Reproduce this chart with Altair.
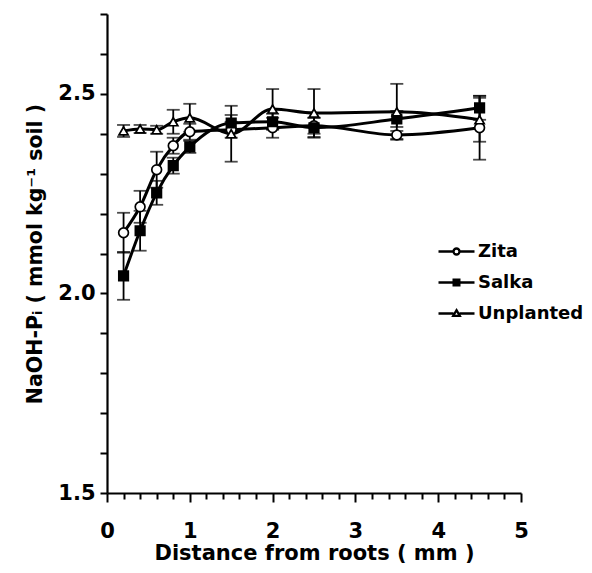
import altair as alt
import pandas as pd

distance = [0.2, 0.4, 0.6, 0.8, 1.0, 1.5, 2.0, 2.5, 3.5, 4.5]
zita = [2.152, 2.217, 2.310, 2.370, 2.405, 2.410, 2.415, 2.420, 2.397, 2.415]
zita_err = [0.050, 0.040, 0.045, 0.020, 0.020, 0.020, 0.025, 0.020, 0.010, 0.080]
salka = [2.044, 2.157, 2.252, 2.320, 2.367, 2.427, 2.430, 2.415, 2.437, 2.465]
salka_err = [0.060, 0.050, 0.030, 0.020, 0.015, 0.020, 0.020, 0.025, 0.020, 0.030]
unplanted = [2.407, 2.412, 2.410, 2.430, 2.440, 2.400, 2.462, 2.452, 2.455, 2.435]
unplanted_err = [0.015, 0.010, 0.010, 0.030, 0.035, 0.070, 0.050, 0.060, 0.070, 0.055]

series_names = ["Zita", "Salka", "Unplanted"]
x_ticks = [0, 0.2, 0.4, 0.6, 0.8, 1, 1.2, 1.4, 1.6, 1.8, 2, 2.2, 2.4, 2.6, 2.8, 3,
           3.2, 3.4, 3.6, 3.8, 4, 4.2, 4.4, 4.6, 4.8, 5]
y_ticks = [1.5, 1.6, 1.7, 1.8, 1.9, 2.0, 2.1, 2.2, 2.3, 2.4, 2.5, 2.6, 2.7]

rows = []
for name, vals, errs in [("Zita", zita, zita_err), ("Salka", salka, salka_err),
                         ("Unplanted", unplanted, unplanted_err)]:
    for d, v, e in zip(distance, vals, errs):
        rows.append({"series": name, "distance": d, "value": v,
                     "lo": v - e, "hi": v + e})
df = pd.DataFrame(rows)

FONT = "DejaVu Sans"

xscale = alt.Scale(domain=[0, 5], nice=False, zero=False)
yscale = alt.Scale(domain=[1.5, 2.7], nice=False, zero=False)

common_axis = dict(
    grid=False,
    labelOverlap=False,
    labelBound=False,
    labelFlush=False,
    labelFont=FONT,
    labelFontSize=21,
    labelFontWeight="bold",
    labelColor="black",
    titleFont=FONT,
    titleFontWeight="bold",
    titleColor="black",
    domainColor="black",
    domainWidth=2.2,
    tickColor="black",
    tickWidth=2,
)

xaxis = alt.Axis(
    values=x_ticks,
    title="Distance from roots ( mm )",
    labelExpr="abs(datum.value - round(datum.value)) < 0.001 ? format(datum.value, 'd') : ''",
    tickSize={"condition": {"test": "abs(datum.value - round(datum.value)) < 0.001", "value": 9}, "value": 6},
    labelPadding=18,
    titlePadding=1,
    titleFontSize=21,
    **common_axis,
)
yaxis = alt.Axis(
    values=y_ticks,
    title="NaOH-Pᵢ ( mmol kg⁻¹ soil )",
    labelExpr="abs(datum.value * 2 - round(datum.value * 2)) < 0.001 ? format(datum.value, '.1f') : ''",
    tickSize=7,
    labelPadding=5,
    titlePadding=12,
    titleFontSize=20.5,
    **common_axis,
)

base = alt.Chart(df)

lines = base.mark_line(interpolate="monotone", color="black", strokeWidth=3).encode(
    x=alt.X("distance:Q", scale=xscale, axis=xaxis),
    y=alt.Y("value:Q", scale=yscale, axis=yaxis),
    detail="series:N",
)

rules = base.mark_rule(color="black", strokeWidth=1.8).encode(
    x=alt.X("distance:Q", axis=xaxis),
    y=alt.Y("lo:Q", axis=yaxis),
    y2="hi:Q",
)

caps = base.transform_fold(["lo", "hi"], as_=["end", "endval"]).mark_tick(
    color="black", orient="horizontal", size=13, thickness=1.8
).encode(
    x=alt.X("distance:Q", axis=xaxis),
    y=alt.Y("endval:Q", axis=yaxis),
)

points = base.mark_point(filled=True, stroke="black", strokeWidth=1.7, opacity=1).encode(
    x=alt.X("distance:Q", axis=xaxis),
    y=alt.Y("value:Q", axis=yaxis),
    shape=alt.Shape("series:N", scale=alt.Scale(domain=series_names,
                                                range=["circle", "square", "triangle-up"]),
                    legend=None),
    fill=alt.Fill("series:N", scale=alt.Scale(domain=series_names,
                                              range=["white", "black", "white"]),
                  legend=None),
    size=alt.Size("series:N", scale=alt.Scale(domain=series_names, range=[95, 85, 95]),
                  legend=None),
)

leg_paths = [
    "M-1.2,0L-0.2,0M0.2,0L1.2,0M0.2,0A0.2,0.2,0,1,1,-0.2,0A0.2,0.2,0,1,1,0.2,0Z",
    "M-1.2,0L1.2,0M-0.19,-0.19L0.19,-0.19L0.19,0.19L-0.19,0.19Z",
    "M-1.2,0L-0.2,0M0.2,0L1.2,0M0,-0.22L0.22,0.16L-0.22,0.16Z",
]
legend = alt.Legend(
    title=None,
    orient="none",
    legendX=333,
    legendY=221,
    symbolSize=900,
    symbolStrokeColor="black",
    symbolStrokeWidth=2.3,
    symbolOpacity=1,
    labelFont=FONT,
    labelFontSize=18,
    labelFontWeight="bold",
    labelColor="black",
    labelOffset=5,
    rowPadding=5,
)
legend_layer = base.mark_point(
    filled=True, strokeWidth=2.3, opacity=0
).encode(
    x=alt.X("distance:Q", axis=xaxis),
    y=alt.Y("value:Q", axis=yaxis),
    shape=alt.Shape("series:N", scale=alt.Scale(domain=series_names, range=leg_paths),
                    legend=legend),
    fill=alt.Fill("series:N", scale=alt.Scale(domain=series_names,
                                              range=["white", "black", "white"]),
                  legend=legend),
    stroke=alt.Stroke("series:N", scale=alt.Scale(domain=series_names,
                                                  range=["black", "black", "black"]),
                      legend=legend),
)

chart = alt.layer(lines, rules, caps, points, legend_layer).resolve_scale(
    shape="independent", fill="independent", stroke="independent"
).properties(
    width=414,
    height=479,
    autosize=alt.AutoSizeParams(type="none"),
    padding={"left": 99, "top": 6, "right": 63, "bottom": 72},
).configure_view(stroke=None)

chart.save("out.html", embed_options={"renderer": "svg", "actions": False})
